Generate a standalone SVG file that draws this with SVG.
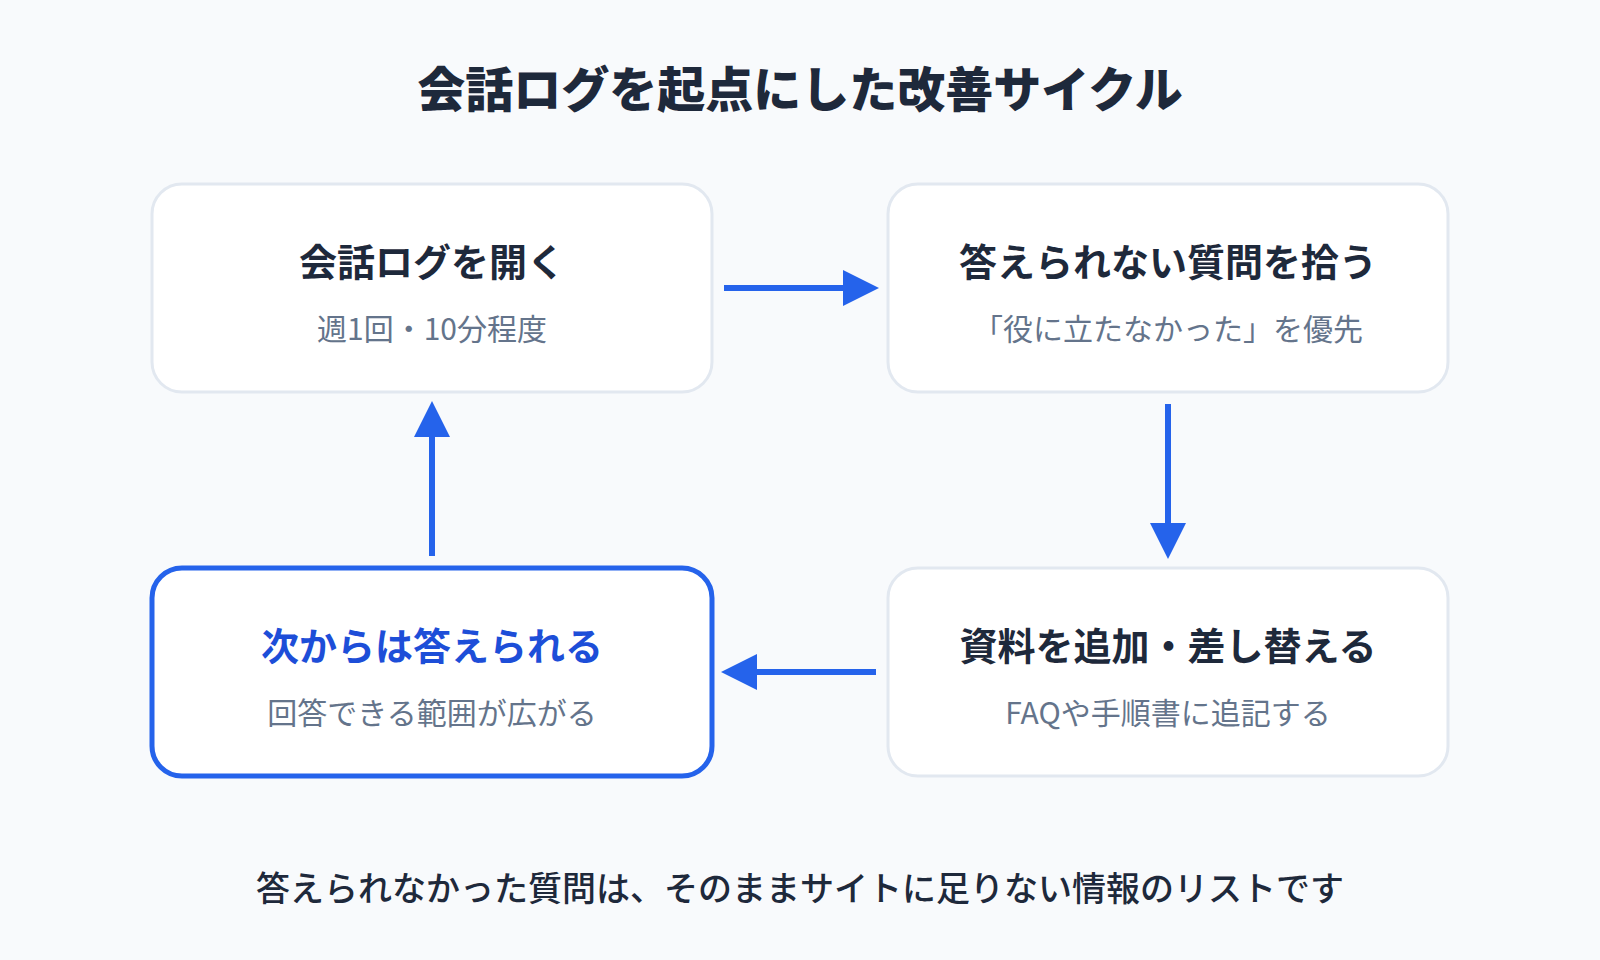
<svg xmlns="http://www.w3.org/2000/svg" width="1600" height="960" viewBox="0 0 1600 960">
<style>
.bg{fill:#f8fafc}
.box{fill:#ffffff;stroke:#e2e8f0;stroke-width:3}
.box.hl{stroke:#2563eb;stroke-width:5}
.t{font-family:"Noto Sans CJK JP","Noto Sans",sans-serif;text-anchor:middle}
.title{font-size:48px;font-weight:900;fill:#1e293b}
.nt{font-size:38px;font-weight:700;fill:#1e293b}
.nt.hl{fill:#1d4ed8}
.ns{font-size:30px;font-weight:400;fill:#64748b}
.foot{font-size:34px;font-weight:500;fill:#1e293b}
.conn{stroke:#2563eb;stroke-width:6;fill:none}
</style>
<defs>
<marker id="ah" markerUnits="userSpaceOnUse" markerWidth="36" markerHeight="36" viewBox="0 0 36 36" refX="0" refY="18" orient="auto">
<path d="M0,0 L36,18 L0,36 Z" fill="#2563eb"/>
</marker>
</defs>
<rect class="bg" x="0" y="0" width="1600" height="960"/>
<text class="t title" x="800" y="107">会話ログを起点にした改善サイクル</text>
<g id="node-open-log">
<rect class="box" x="152" y="184" width="560" height="208" rx="30"/>
<text class="t nt" x="432" y="276">会話ログを開く</text>
<text class="t ns" x="432" y="340">週1回・10分程度</text>
</g>
<g id="node-pick-questions">
<rect class="box" x="888" y="184" width="560" height="208" rx="30"/>
<text class="t nt" x="1168" y="276">答えられない質問を拾う</text>
<text class="t ns" x="1168" y="340">「役に立たなかった」を優先</text>
</g>
<g id="node-update-docs">
<rect class="box" x="888" y="568" width="560" height="208" rx="30"/>
<text class="t nt" x="1168" y="660">資料を追加・差し替える</text>
<text class="t ns" x="1168" y="724">FAQや手順書に追記する</text>
</g>
<g id="node-answerable">
<rect class="box hl" x="152" y="568" width="560" height="208" rx="30"/>
<text class="t nt hl" x="432" y="660">次からは答えられる</text>
<text class="t ns" x="432" y="724">回答できる範囲が広がる</text>
</g>
<g id="connectors">
<line class="conn" x1="724" y1="288" x2="843" y2="288" marker-end="url(#ah)"/>
<line class="conn" x1="1168" y1="404" x2="1168" y2="523" marker-end="url(#ah)"/>
<line class="conn" x1="876" y1="672" x2="757" y2="672" marker-end="url(#ah)"/>
<line class="conn" x1="432" y1="556" x2="432" y2="437" marker-end="url(#ah)"/>
</g>
<text class="t foot" x="800" y="901">答えられなかった質問は、そのままサイトに足りない情報のリストです</text>
</svg>
